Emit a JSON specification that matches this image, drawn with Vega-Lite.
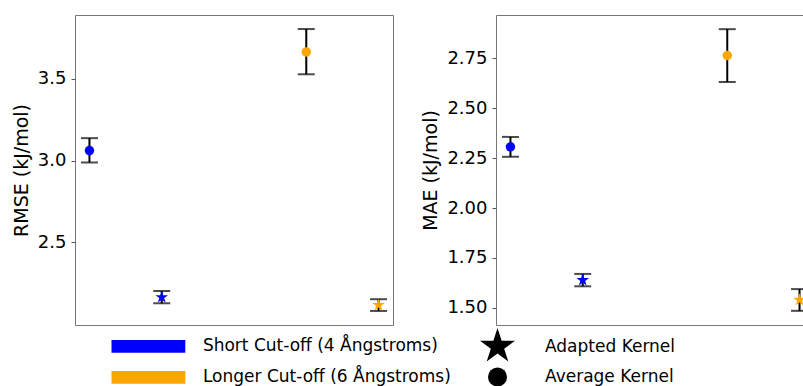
{
  "$schema": "https://vega.github.io/schema/vega-lite/v6.json",
  "padding": {"left": 11, "top": 14, "right": 0, "bottom": 0},
  "data": {"values": [
    {"metric": "RMSE", "cutoff": "Short Cut-off (4 Ångstroms)", "kernel": "Average Kernel", "x": 0, "value": 3.061, "lo": 2.988, "hi": 3.137},
    {"metric": "RMSE", "cutoff": "Short Cut-off (4 Ångstroms)", "kernel": "Adapted Kernel", "x": 1, "value": 2.163, "lo": 2.126, "hi": 2.201},
    {"metric": "RMSE", "cutoff": "Longer Cut-off (6 Ångstroms)", "kernel": "Average Kernel", "x": 3, "value": 3.665, "lo": 3.528, "hi": 3.805},
    {"metric": "RMSE", "cutoff": "Longer Cut-off (6 Ångstroms)", "kernel": "Adapted Kernel", "x": 4, "value": 2.115, "lo": 2.079, "hi": 2.151},
    {"metric": "MAE", "cutoff": "Short Cut-off (4 Ångstroms)", "kernel": "Average Kernel", "x": 0, "value": 2.307, "lo": 2.257, "hi": 2.357},
    {"metric": "MAE", "cutoff": "Short Cut-off (4 Ångstroms)", "kernel": "Adapted Kernel", "x": 1, "value": 1.639, "lo": 1.608, "hi": 1.670},
    {"metric": "MAE", "cutoff": "Longer Cut-off (6 Ångstroms)", "kernel": "Average Kernel", "x": 3, "value": 2.765, "lo": 2.632, "hi": 2.897},
    {"metric": "MAE", "cutoff": "Longer Cut-off (6 Ångstroms)", "kernel": "Adapted Kernel", "x": 4, "value": 1.540, "lo": 1.485, "hi": 1.594}
  ]},
  "config": {
    "font": "DejaVu Sans",
    "view": {"stroke": "#777777", "strokeWidth": 1},
    "axis": {
      "labelFont": "DejaVu Sans", "labelFontSize": 18, "labelColor": "black",
      "titleFont": "DejaVu Sans", "titleFontSize": 19, "titleFontWeight": "normal", "titleColor": "black",
      "tickColor": "#555555", "tickSize": 4, "labelPadding": 5, "titlePadding": 6,
      "grid": false, "domain": false
    }
  },
  "spacing": 103,
  "bounds": "flush",
  "hconcat": [
    {
      "width": 318, "height": 310,
      "transform": [{"filter": "datum.metric === 'RMSE'"}],
      "encoding": {
        "x": {"field": "x", "type": "quantitative", "scale": {"domain": [-0.2, 4.2], "nice": false, "zero": false}, "axis": null}
      },
      "layer": [
        {
          "mark": {"type": "rule", "color": "black", "strokeWidth": 2},
          "encoding": {
            "y": {"field": "lo", "type": "quantitative", "scale": {"domain": [1.993, 3.891], "nice": false, "zero": false},
                  "axis": {"values": [2.5, 3.0, 3.5], "format": ".1f", "title": "RMSE (kJ/mol)"}},
            "y2": {"field": "hi"}
          }
        },
        {
          "mark": {"type": "tick", "orient": "horizontal", "color": "black", "thickness": 2, "size": 17},
          "encoding": {"y": {"field": "lo", "type": "quantitative", "title": "RMSE (kJ/mol)"}}
        },
        {
          "mark": {"type": "tick", "orient": "horizontal", "color": "black", "thickness": 2, "size": 17},
          "encoding": {"y": {"field": "hi", "type": "quantitative", "title": "RMSE (kJ/mol)"}}
        },
        {
          "mark": {"type": "point", "filled": true, "opacity": 1, "size": 90},
          "encoding": {
            "y": {"field": "value", "type": "quantitative", "title": "RMSE (kJ/mol)"},
            "color": {"field": "cutoff", "type": "nominal",
              "scale": {"domain": ["Short Cut-off (4 Ångstroms)", "Longer Cut-off (6 Ångstroms)"], "range": ["#0000ff", "#ffa500"]},
              "legend": {"orient": "none", "legendX": 64.9, "legendY": 322.8, "title": null, "padding": 0,
                "symbolType": "M-6.15,-1.06H6.15V1.06H-6.15Z", "symbolSize": 144, "symbolStrokeWidth": 0, "symbolOpacity": 1,
                "labelOffset": 46, "labelFontSize": 17, "labelFont": "DejaVu Sans", "labelColor": "black", "labelLimit": 400,
                "rowPadding": 13}},
            "shape": {"field": "kernel", "type": "nominal",
              "scale": {"domain": ["Adapted Kernel", "Average Kernel"], "range": ["M0,-1.4L0.3143,-0.4326L1.3314,-0.4326L0.5082,0.1652L0.8229,1.1326L0,0.5348L-0.8229,1.1326L-0.5082,0.1652L-1.3314,-0.4326L-0.3143,-0.4326Z", "circle"]},
              "legend": {"orient": "none", "legendX": 413, "legendY": 322, "title": null, "padding": 0,
                "symbolSize": 361, "symbolFillColor": "black", "symbolStrokeColor": "black", "symbolStrokeWidth": 0, "symbolOpacity": 1,
                "labelOffset": 38, "labelFontSize": 17, "labelFont": "DejaVu Sans", "labelColor": "black", "labelLimit": 400,
                "rowPadding": 5.5,
                "encode": {"symbols": {"update": {"size": {"signal": "datum.value === 'Adapted Kernel' ? 690 : 361"}, "fill": {"value": "black"}}}}}}
          }
        }
      ]
    },
    {
      "width": 307, "height": 310,
      "view": {"stroke": null},
      "transform": [{"filter": "datum.metric === 'MAE'"}],
      "layer": [
        {
          "mark": {"type": "rule", "color": "black", "strokeWidth": 2, "clip": true},
          "encoding": {
            "x": {"field": "x", "type": "quantitative", "scale": {"domain": [-0.2, 4.048], "nice": false, "zero": false},
                  "axis": {"orient": "bottom", "domain": true, "domainColor": "#777777", "ticks": false, "labels": false, "title": null}},
            "y": {"field": "lo", "type": "quantitative", "scale": {"domain": [1.414, 2.968], "nice": false, "zero": false},
                  "axis": {"values": [1.5, 1.75, 2.0, 2.25, 2.5, 2.75], "format": ".2f", "title": "MAE (kJ/mol)", "domain": true, "domainColor": "#777777"}},
            "y2": {"field": "hi"}
          }
        },
        {
          "mark": {"type": "tick", "orient": "horizontal", "color": "black", "thickness": 2, "size": 17, "clip": true},
          "encoding": {
            "x": {"field": "x", "type": "quantitative",
                  "axis": {"orient": "top", "domain": true, "domainColor": "#777777", "ticks": false, "labels": false, "title": null}},
            "y": {"field": "lo", "type": "quantitative", "title": "MAE (kJ/mol)"}
          }
        },
        {
          "mark": {"type": "tick", "orient": "horizontal", "color": "black", "thickness": 2, "size": 17, "clip": true},
          "encoding": {
            "x": {"field": "x", "type": "quantitative", "axis": null},
            "y": {"field": "hi", "type": "quantitative", "title": "MAE (kJ/mol)"}
          }
        },
        {
          "mark": {"type": "point", "filled": true, "opacity": 1, "size": 90, "clip": true},
          "encoding": {
            "x": {"field": "x", "type": "quantitative", "axis": null},
            "y": {"field": "value", "type": "quantitative", "title": "MAE (kJ/mol)"},
            "color": {"field": "cutoff", "type": "nominal"},
            "shape": {"field": "kernel", "type": "nominal"}
          }
        }
      ],
      "resolve": {"axis": {"x": "independent"}}
    }
  ]
}
